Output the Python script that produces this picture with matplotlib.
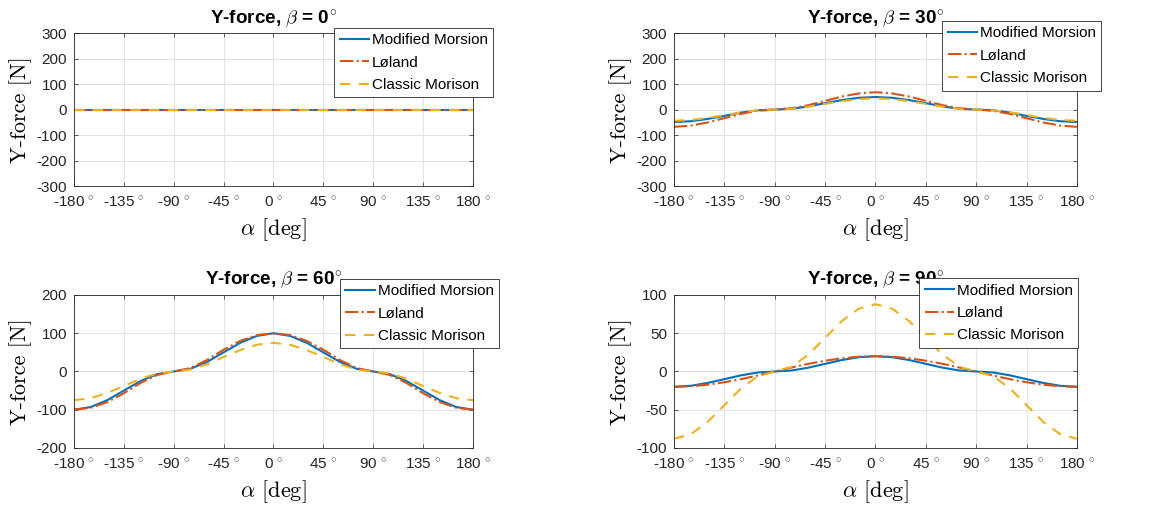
import numpy as np
import matplotlib
matplotlib.use("Agg")
import matplotlib.pyplot as plt

plt.rcParams['mathtext.fontset'] = 'cm'
plt.rcParams['font.family'] = ['Liberation Sans', 'DejaVu Sans']

# angle of attack, every 15 deg
alpha = [-180, -165, -150, -135, -120, -105, -90, -75, -60, -45, -30, -15, 0,
         15, 30, 45, 60, 75, 90, 105, 120, 135, 150, 165, 180]

# beta = 0
mm_0 = [0] * 25
lo_0 = [0] * 25
cl_0 = [0] * 25

# beta = 30
mm_30 = [-49, -46, -37, -25, -12, -3, 0, 3, 12, 25, 37, 46, 49,
         46, 37, 25, 12, 3, 0, -3, -12, -25, -37, -46, -49]
lo_30 = [-68, -63, -51, -34, -17, -5, 0, 5, 17, 34, 51, 63, 68,
         63, 51, 34, 17, 5, 0, -5, -17, -34, -51, -63, -68]
cl_30 = [-44, -41, -33, -22, -11, -3, 0, 3, 11, 22, 33, 41, 44,
         41, 33, 22, 11, 3, 0, -3, -11, -22, -33, -41, -44]

# beta = 60
mm_60 = [-100, -93, -75, -50, -25, -7, 0, 7, 25, 50, 75, 93, 100,
         93, 75, 50, 25, 7, 0, -7, -25, -50, -75, -93, -100]
lo_60 = [-100, -95, -80, -57, -30, -9, 0, 9, 30, 57, 80, 95, 100,
         95, 80, 57, 30, 9, 0, -9, -30, -57, -80, -95, -100]
cl_60 = [-75, -70, -56, -38, -19, -5, 0, 5, 19, 38, 56, 70, 75,
         70, 56, 38, 19, 5, 0, -5, -19, -38, -56, -70, -75]

# beta = 90
mm_90 = [-20, -18.7, -15, -10, -5, -1.3, 0, 1.3, 5, 10, 15, 18.7, 20,
         18.7, 15, 10, 5, 1.3, 0, -1.3, -5, -10, -15, -18.7, -20]
lo_90 = [-20, -19.3, -17.3, -14.1, -10, -5.2, 0, 5.2, 10, 14.1, 17.3, 19.3, 20,
         19.3, 17.3, 14.1, 10, 5.2, 0, -5.2, -10, -14.1, -17.3, -19.3, -20]
cl_90 = [-88, -82, -66, -44, -22, -6, 0, 6, 22, 44, 66, 82, 88,
         82, 66, 44, 22, 6, 0, -6, -22, -44, -66, -82, -88]

betas = [0, 30, 60, 90]
series = [(mm_0, lo_0, cl_0), (mm_30, lo_30, cl_30),
          (mm_60, lo_60, cl_60), (mm_90, lo_90, cl_90)]
yticks = [[-300, -200, -100, 0, 100, 200, 300],
          [-300, -200, -100, 0, 100, 200, 300],
          [-200, -100, 0, 100, 200],
          [-100, -50, 0, 50, 100]]
xticks = [-180, -135, -90, -45, 0, 45, 90, 135, 180]

# axes rects in figure fractions: left, bottom, width, height
rects = [[0.0629, 0.6395, 0.3393, 0.2965],
         [0.5731, 0.6395, 0.3427, 0.2965],
         [0.0629, 0.1318, 0.3393, 0.2965],
         [0.5731, 0.1318, 0.3427, 0.2965]]
leg_anchor = [(1.05, 1.033), (1.06, 1.078), (1.065, 1.105), (1.0025, 1.11)]

c1, c2, c3 = '#0072BD', '#D95319', '#EDB120'

fig = plt.figure(figsize=(11.76, 5.16), dpi=100)
for k in range(4):
    ax = fig.add_axes(rects[k])
    mm, lo, cl = series[k]
    ax.plot(alpha, mm, color=c1, lw=1.5, label='Modified Morsion')
    ax.plot(alpha, lo, color=c2, lw=1.5, ls='-.', label='Løland')
    ax.plot(alpha, cl, color=c3, lw=1.5, ls=(0, (5, 4)), label='Classic Morison')
    ax.set_xlim(-180, 180)
    ax.set_ylim(yticks[k][0], yticks[k][-1])
    ax.set_xticks(xticks)
    ax.set_xticklabels([str(t) + r'$^{\,\circ}$' for t in xticks])
    ax.set_yticks(yticks[k])
    ax.set_yticklabels([str(t) for t in yticks[k]])
    ax.tick_params(labelsize=11, direction='in', length=3, width=0.5,
                   top=True, right=True, colors='#262626')
    ax.tick_params(axis='x', pad=7)
    ax.tick_params(axis='y', pad=5)
    ax.grid(True, color='#e3e3e3', lw=0.7)
    ax.set_axisbelow(True)
    for s in ax.spines.values():
        s.set_linewidth(0.6)
        s.set_color('#262626')
    ax.set_title('Y-force, $\\beta$ = ' + str(betas[k]) + r'$^{\circ}$',
                 fontsize=13.6, fontweight='bold', pad=7)
    ax.set_ylabel('Y-force [N]', fontsize=16, family='cmr10', labelpad=3)
    ax.set_xlabel(r'$\alpha$ [deg]', fontsize=16, family='cmr10', labelpad=4)
    leg = ax.legend(loc='upper right', bbox_to_anchor=leg_anchor[k],
                    fontsize=11, fancybox=False, framealpha=1,
                    edgecolor='#262626', handlelength=1.9, handletextpad=0.2,
                    labelspacing=0.55, borderpad=0.35, borderaxespad=0)
    leg.get_frame().set_linewidth(0.6)

fig.savefig('out.png', dpi=100)
